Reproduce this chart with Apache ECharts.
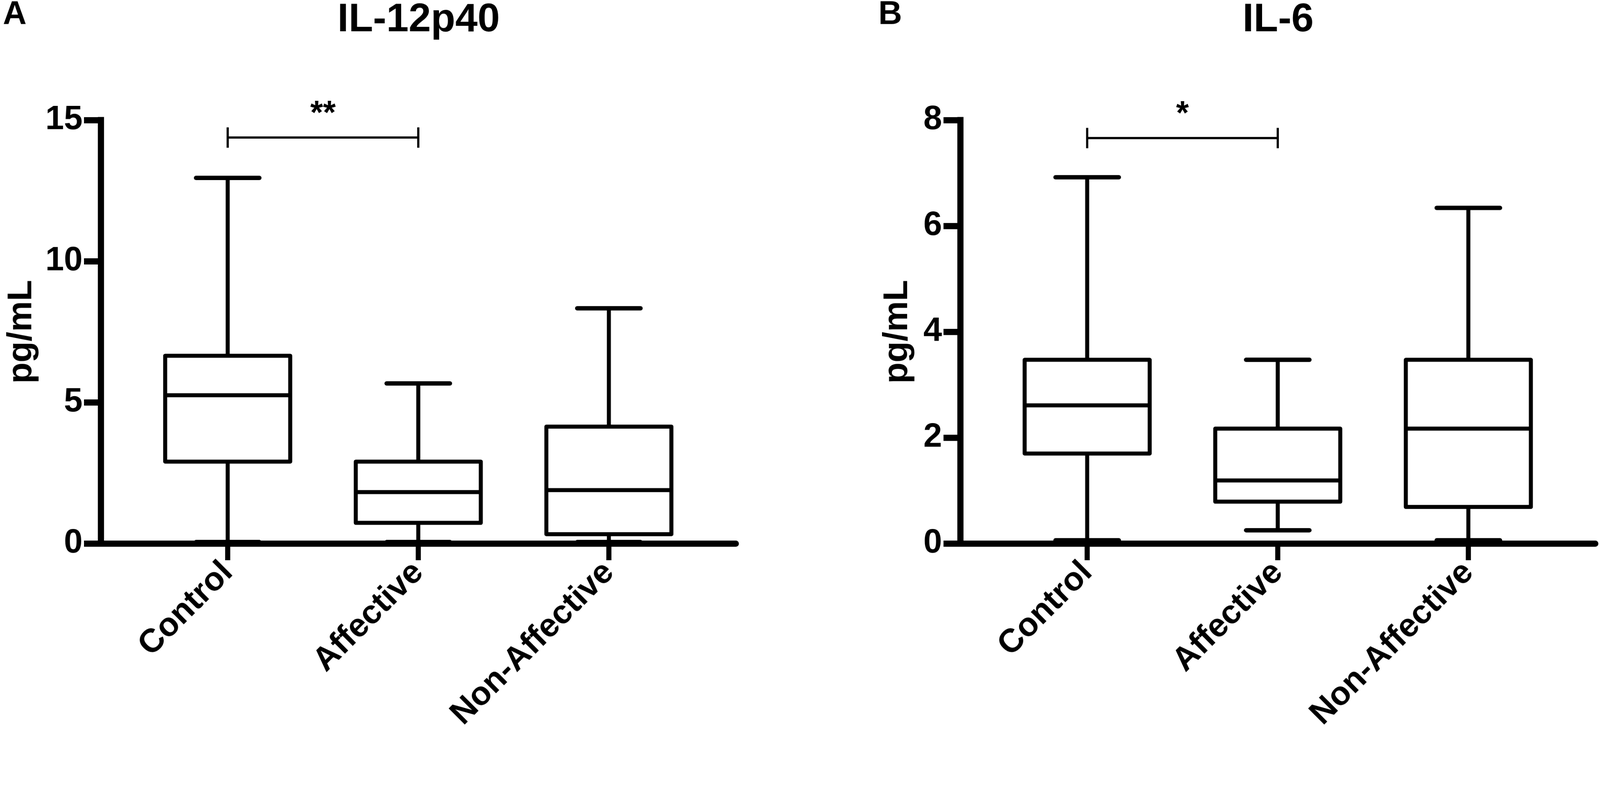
<!DOCTYPE html>
<html>
<head>
<meta charset="utf-8">
<title>IL-12p40 / IL-6</title>
<script src="https://cdn.jsdelivr.net/npm/echarts@6/dist/echarts.min.js"></script>
<style>
  html, body { margin: 0; padding: 0; background: #fff; overflow: hidden; }
  #chart { width: 4399px; height: 2017px; transform-origin: 0 0; }
</style>
</head>
<body>
<div id="chart"></div>
<script>
/* ---------------------------------- Data ---------------------------------- */
const categories = ['Control', 'Affective', 'Non-Affective'];

// [min, Q1, median, Q3, max] per group, pg/mL
const il12Boxes = [
  [0.05, 2.9, 5.25, 6.65, 12.95],
  [0.05, 0.73, 1.82, 2.9, 5.67],
  [0.05, 0.33, 1.89, 4.14, 8.33]
];
const il6Boxes = [
  [0.06, 1.7, 2.61, 3.47, 6.92],
  [0.25, 0.79, 1.19, 2.17, 3.47],
  [0.06, 0.69, 2.17, 3.47, 6.34]
];

// y axis ranges: [min, max, step]
const il12Ticks = [0, 15, 5];
const il6Ticks = [0, 8, 2];

// significance brackets: [fromIndex, toIndex, y]
const il12Sig = [[0, 1, 14.38]];
const il12SigLabels = ['**'];
const il6Sig = [[0, 1, 7.66]];
const il6SigLabels = ['*'];

/* --------------------------------- Styles --------------------------------- */
const FONT = '"Liberation Sans", Arial, sans-serif';
const INK = '#000';

// the page is laid out at 4399 px wide; shrink it if the viewport is narrower
const fitPage = () => {
  const s = Math.min(window.innerWidth / 4399, window.innerHeight / 2017);
  document.getElementById('chart').style.transform = s < 0.999 ? `scale(${s})` : '';
};
fitPage();

const renderBox = (params, api) => {
  const x = api.value(0);
  const lo = api.coord([x, api.value(1)]);
  const q1 = api.coord([x, api.value(2)]);
  const med = api.coord([x, api.value(3)]);
  const q3 = api.coord([x, api.value(4)]);
  const hi = api.coord([x, api.value(5)]);
  const band = api.size([1, 0])[0];
  const halfBox = band * 0.328;
  const halfCap = band * 0.166;
  const cx = lo[0];
  const line = { stroke: INK, lineWidth: 11, fill: null };
  const cap = { stroke: INK, lineWidth: 12, lineCap: 'round', fill: null };
  return {
    type: 'group',
    children: [
      { type: 'line', shape: { x1: cx, y1: lo[1], x2: cx, y2: q1[1] }, style: line },
      { type: 'line', shape: { x1: cx, y1: q3[1], x2: cx, y2: hi[1] }, style: line },
      { type: 'line', shape: { x1: cx - halfCap, y1: lo[1], x2: cx + halfCap, y2: lo[1] }, style: cap },
      { type: 'line', shape: { x1: cx - halfCap, y1: hi[1], x2: cx + halfCap, y2: hi[1] }, style: cap },
      {
        type: 'rect',
        shape: { x: cx - halfBox, y: q3[1], width: halfBox * 2, height: q1[1] - q3[1] },
        style: { stroke: INK, lineWidth: 11, fill: '#fff', lineJoin: 'round' }
      },
      { type: 'line', shape: { x1: cx - halfBox, y1: med[1], x2: cx + halfBox, y2: med[1] }, style: line }
    ]
  };
};

const makeSigRenderer = labels => (params, api) => {
  const a = api.coord([api.value(0), api.value(2)]);
  const b = api.coord([api.value(1), api.value(2)]);
  const st = { stroke: INK, lineWidth: 6, fill: null };
  return {
    type: 'group',
    children: [
      { type: 'line', shape: { x1: a[0], y1: a[1], x2: b[0], y2: b[1] }, style: st },
      { type: 'line', shape: { x1: a[0], y1: a[1] - 28, x2: a[0], y2: a[1] + 28 }, style: st },
      { type: 'line', shape: { x1: b[0], y1: b[1] - 28, x2: b[0], y2: b[1] + 28 }, style: st },
      {
        type: 'text',
        x: (a[0] + b[0]) / 2,
        y: a[1] - 63,
        style: {
          text: labels[params.dataIndex],
          fill: INK,
          font: 'bold 90px ' + FONT,
          align: 'center',
          verticalAlign: 'middle'
        }
      }
    ]
  };
};

/* ------------------------------ Panel builder ----------------------------- */
const TOP = 330;
const HEIGHT = 1164;
const BAND = 524;
const SIDE = 349;

const panel = (axisX, ticks, nameGap) => {
  const wideWidth = SIDE * 2 + BAND * 2;
  return {
    grids: [
      { left: axisX, top: TOP, width: wideWidth, height: HEIGHT, outerBoundsMode: 'none' },
      { left: axisX + SIDE - BAND / 2, top: TOP, width: BAND * 3, height: HEIGHT, outerBoundsMode: 'none' }
    ],
    xAxes: [
      {
        type: 'value', min: 0, max: 1,
        axisLine: { show: true, lineStyle: { color: INK, width: 17 } },
        axisTick: { show: false }, axisLabel: { show: false }, splitLine: { show: false }
      },
      {
        type: 'category', data: categories, boundaryGap: true,
        axisLine: { show: false },
        axisTick: { show: true, alignWithLabel: true, length: 46, lineStyle: { color: INK, width: 14 } },
        axisLabel: {
          rotate: 45, interval: 0, margin: 66,
          color: INK, fontFamily: FONT, fontWeight: 'bold', fontSize: 91,
          align: 'right', verticalAlign: 'middle'
        },
        splitLine: { show: false }
      }
    ],
    yAxes: [
      {
        type: 'value', min: ticks[0], max: ticks[1], interval: ticks[2],
        name: 'pg/mL', nameLocation: 'middle', nameGap: nameGap,
        nameTextStyle: { color: INK, fontFamily: FONT, fontWeight: 'bold', fontSize: 95 },
        axisLine: { show: true, lineStyle: { color: INK, width: 17, cap: 'square' } },
        axisTick: { show: true, length: 46, lineStyle: { color: INK, width: 17 } },
        axisLabel: { margin: 50, color: INK, fontFamily: FONT, fontWeight: 'bold', fontSize: 92 },
        splitLine: { show: false }
      },
      { type: 'value', min: ticks[0], max: ticks[1], show: false, splitLine: { show: false } }
    ]
  };
};

const left = panel(277, il12Ticks, 170);
const right = panel(2640, il6Ticks, 125);

const grids = [...left.grids, ...right.grids];
const xAxes = [...left.xAxes, ...right.xAxes].map((ax, i) => Object.assign({ gridIndex: i }, ax));
const yAxes = [...left.yAxes, ...right.yAxes].map((ax, i) => Object.assign({ gridIndex: i }, ax));

const chart = echarts.init(document.getElementById('chart'), null, { renderer: 'canvas' });

chart.setOption({
  animation: false,
  backgroundColor: '#fff',
  textStyle: { fontFamily: FONT },
  grid: grids,
  xAxis: xAxes,
  yAxis: yAxes,
  graphic: [
    { type: 'text', x: 8, y: 41, style: { text: 'A', fill: INK, font: 'bold 90px ' + FONT, align: 'left', verticalAlign: 'middle' } },
    { type: 'text', x: 2415, y: 41, style: { text: 'B', fill: INK, font: 'bold 90px ' + FONT, align: 'left', verticalAlign: 'middle' } },
    { type: 'text', x: 1151, y: 56, style: { text: 'IL-12p40', fill: INK, font: 'bold 110px ' + FONT, align: 'center', verticalAlign: 'middle' } },
    { type: 'text', x: 3514, y: 56, style: { text: 'IL-6', fill: INK, font: 'bold 110px ' + FONT, align: 'center', verticalAlign: 'middle' } }
  ],
  series: [
    {
      type: 'custom', name: 'IL-12p40', xAxisIndex: 1, yAxisIndex: 1,
      renderItem: renderBox,
      encode: { x: 0, y: [1, 2, 3, 4, 5] },
      data: il12Boxes.map((b, i) => [i, ...b])
    },
    {
      type: 'custom', name: 'IL-12p40 sig', xAxisIndex: 1, yAxisIndex: 1,
      renderItem: makeSigRenderer(il12SigLabels),
      encode: { x: [0, 1], y: 2 },
      data: il12Sig
    },
    {
      type: 'custom', name: 'IL-6', xAxisIndex: 3, yAxisIndex: 3,
      renderItem: renderBox,
      encode: { x: 0, y: [1, 2, 3, 4, 5] },
      data: il6Boxes.map((b, i) => [i, ...b])
    },
    {
      type: 'custom', name: 'IL-6 sig', xAxisIndex: 3, yAxisIndex: 3,
      renderItem: makeSigRenderer(il6SigLabels),
      encode: { x: [0, 1], y: 2 },
      data: il6Sig
    }
  ]
});
</script>
</body>
</html>
